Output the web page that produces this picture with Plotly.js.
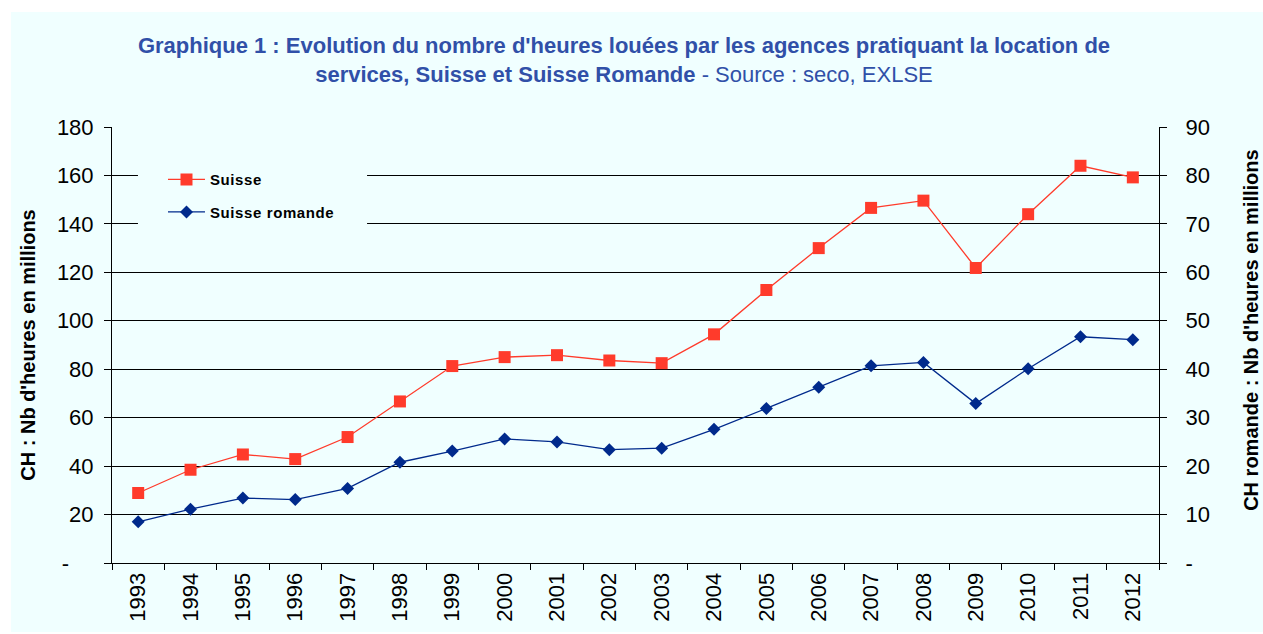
<!DOCTYPE html>
<html>
<head>
<meta charset="utf-8">
<script src="https://cdn.plot.ly/plotly-3.0.1.min.js"></script>
<style>
  html, body { margin: 0; padding: 0; background: #ffffff; width: 1263px; height: 634px; overflow: hidden; }
  #chart { position: absolute; left: 11px; top: 12px; width: 1252px; height: 620px; }
  .legendtext { letter-spacing: 0.6px; }
</style>
</head>
<body>
<div id="chart"></div>
<script>
// ---- data ----
const years = ["1993","1994","1995","1996","1997","1998","1999","2000","2001","2002",
               "2003","2004","2005","2006","2007","2008","2009","2010","2011","2012"];
// Suisse, left axis, millions of hours
const suisse = [28.9, 38.5, 44.8, 42.9, 52.0, 66.7, 81.3, 85.0, 85.8, 83.6,
                82.5, 94.4, 112.7, 130.0, 146.6, 149.6, 121.8, 144.0, 164.0, 159.2];
// Suisse romande, right axis, millions of hours
const romande = [8.5, 11.1, 13.4, 13.1, 15.4, 20.8, 23.1, 25.6, 25.0, 23.4,
                 23.7, 27.6, 31.9, 36.3, 40.7, 41.4, 32.9, 40.1, 46.7, 46.1];
const leftTickVals = [0, 20, 40, 60, 80, 100, 120, 140, 160, 180];
const leftTickText = ["-\u00a0\u00a0\u00a0\u00a0", "20", "40", "60", "80", "100", "120", "140", "160", "180"];
const rightTickVals = [0, 10, 20, 30, 40, 50, 60, 70, 80, 90];
const rightTickText = ["-", "10", "20", "30", "40", "50", "60", "70", "80", "90"];
const seriesNames = ["Suisse", "Suisse romande"];
const leftTitle = "CH : Nb d'heures en millions";
const rightTitle = "CH romande : Nb d'heures en millions";

const NARROW = "'Liberation Sans Narrow', 'Arial Narrow', 'Liberation Sans', Arial, sans-serif";
const BG = "#F0FFFF";

const traces = [
  {
    x: years, y: suisse, name: seriesNames[0], type: "scatter", mode: "lines+markers",
    yaxis: "y", legendgroup: "a",
    line: { color: "#FF3B2B", width: 1.3 },
    marker: { symbol: "square", size: 12, color: "#FF3B2B" }
  },
  {
    x: years, y: romande, name: seriesNames[1], type: "scatter", mode: "lines+markers",
    yaxis: "y2", legendgroup: "b",
    line: { color: "#002A8C", width: 1.3 },
    marker: { symbol: "diamond", size: 10, color: "#002A8C" }
  }
];

const layout = {
  width: 1252, height: 620,
  paper_bgcolor: BG, plot_bgcolor: BG,
  margin: { l: 101, r: 104, t: 115, b: 69 },
  font: { family: NARROW, size: 22, color: "#000" },
  showlegend: true,
  title: {
    text: "<b>Graphique 1 : Evolution du nombre d'heures louées par les agences pratiquant la location de</b><br><b>services, Suisse et Suisse Romande</b> - Source : seco, EXLSE",
    font: { family: NARROW, size: 22, color: "#3050A8" },
    x: 0.489, xanchor: "center", xref: "paper",
    y: 0.934, yanchor: "top"
  },
  xaxis: {
    type: "category", tickson: "boundaries", range: [-0.5, 19.5], autorange: false,
    ticks: "outside", ticklen: 6, tickcolor: "#000", tickwidth: 1,
    showline: true, linecolor: "#000", linewidth: 1,
    showgrid: false, tickangle: -90,
    tickfont: { family: NARROW, size: 22, color: "#000" },
    automargin: false
  },
  yaxis: {
    range: [0, 180], tickvals: leftTickVals, ticktext: leftTickText,
    ticks: "outside", ticklen: 7, tickcolor: "#000",
    showline: true, linecolor: "#000", linewidth: 1,
    showgrid: true, gridcolor: "#000", gridwidth: 1, zeroline: false,
    tickfont: { family: NARROW, size: 22, color: "#000" },
    ticklabelstandoff: 6,
    automargin: false,
    title: { text: "<b>" + leftTitle + "</b>", font: { family: NARROW, size: 20, color: "#000" }, standoff: 15 }
  },
  yaxis2: {
    overlaying: "y", side: "right", range: [0, 90],
    tickvals: rightTickVals, ticktext: rightTickText,
    ticks: "outside", ticklen: 7, tickcolor: "#000",
    showline: true, linecolor: "#000", linewidth: 1,
    showgrid: false, zeroline: false,
    tickfont: { family: NARROW, size: 22, color: "#000" },
    ticklabelstandoff: 14,
    automargin: false
  },
  annotations: [
    { text: "<b>" + rightTitle + "</b>", xref: "paper", yref: "paper", x: 1.0885, y: 0.534,
      xanchor: "center", yanchor: "middle", textangle: -90, showarrow: false, borderpad: 0,
      font: { family: NARROW, size: 20, color: "#000" } }
  ],
  legend: {
    x: 0.0487, y: 0.917, xanchor: "left", yanchor: "top",
    bgcolor: "rgba(0,0,0,0)", borderwidth: 0,
    font: { family: "'Liberation Sans', Arial, sans-serif", size: 15, color: "#000", weight: "bold" },
    traceorder: "grouped", tracegroupgap: 10,
    itemwidth: 37
  },
  shapes: [
    { type: "rect", xref: "paper", yref: "paper", x0: 0.0248, x1: 0.2436, y0: 0.752, y1: 0.947,
      fillcolor: BG, line: { width: 0 }, layer: "above" }
  ]
};

Plotly.newPlot("chart", traces, layout, { displayModeBar: false, staticPlot: true });
</script>
</body>
</html>
